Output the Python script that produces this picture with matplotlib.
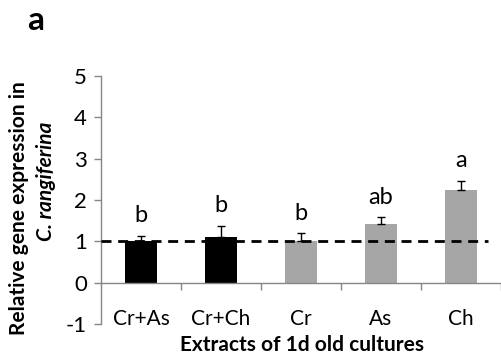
import matplotlib
matplotlib.use("Agg")
import matplotlib.pyplot as plt

plt.rcParams['font.family'] = ['Lato', 'DejaVu Sans']

# Extracts and their relative expression (mean and upper SE)
categories = ["Cr+As", "Cr+Ch", "Cr", "As", "Ch"]
expression = [1.00, 1.11, 1.00, 1.43, 2.25]
errors = [0.14, 0.27, 0.19, 0.16, 0.22]
letters = ["b", "b", "b", "ab", "a"]
bar_colors = ["#000000", "#000000", "#a6a6a6", "#a6a6a6", "#a6a6a6"]
baseline = 1.02
yticks = [-1, 0, 1, 2, 3, 4, 5]

fig = plt.figure(figsize=(5.02, 3.6), dpi=100)
ax = fig.add_axes([101 / 502, 36 / 360, 400 / 502, 248 / 360])

x = list(range(len(categories)))
ax.bar(x, expression, width=0.41, color=bar_colors, zorder=2)
ax.errorbar(x, expression, yerr=[[0] * len(errors), errors], fmt="none",
            ecolor="black", elinewidth=1, capsize=3, capthick=1, zorder=3)

# Reference level of expression
ax.plot([-0.5, 4.34], [baseline, baseline], color="black", lw=2,
        dashes=(3.6, 2.4), zorder=4)

for xi, v, e, lab in zip(x, expression, errors, letters):
    ax.annotate(lab, (xi, v + e), xytext=(0, 9.5), textcoords="offset points",
                ha="center", va="baseline", fontsize=17)

ax.set_xlim(-0.5, 4.5)
ax.set_ylim(-1, 5)

ax.spines["top"].set_visible(False)
ax.spines["right"].set_visible(False)
ax.spines["bottom"].set_position(("data", 0))
for s in ("left", "bottom"):
    ax.spines[s].set_color("#868686")
    ax.spines[s].set_linewidth(1)

ax.set_yticks(yticks)
ax.set_yticklabels([str(t) for t in yticks])
ax.tick_params(axis="y", direction="out", length=5, width=1, color="#868686",
               pad=5, labelsize=16)

ax.set_xticks(x)
ax.set_xticklabels(categories)
ax.set_xticks([0.5, 1.5, 2.5, 3.5, 4.5], minor=True)
ax.tick_params(axis="x", which="major", length=0, pad=19, labelsize=15)
ax.tick_params(axis="x", which="minor", direction="out", length=5, width=1,
               color="#868686")

fig.text(302 / 502, 1 - 345 / 360, "Extracts of 1d old cultures",
         ha="center", va="center", fontsize=15, fontweight="bold")
fig.text(19 / 502, 1 - 208 / 360, "Relative gene expression in",
         ha="center", va="center", rotation=90, fontsize=15, fontweight="bold")
fig.text(46 / 502, 1 - 181 / 360, "C. rangiferina",
         ha="center", va="center", rotation=90, fontsize=15,
         fontweight="bold", fontstyle="italic")
fig.text(36 / 502, 1 - 21 / 360, "a", ha="center", va="center",
         fontsize=24, fontweight="bold")

fig.savefig("out.png", dpi=100)
